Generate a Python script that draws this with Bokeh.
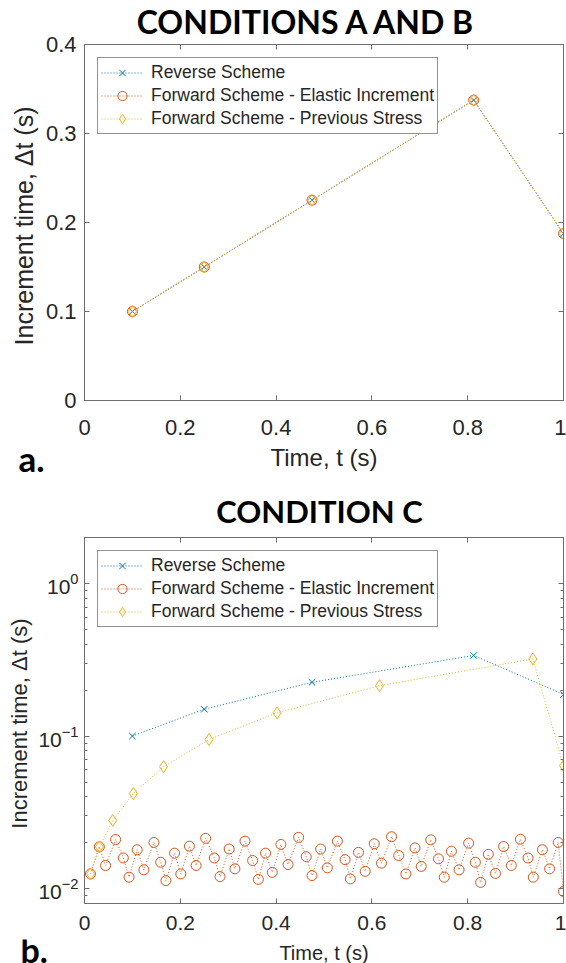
from bokeh.plotting import figure
from bokeh.models import (Range1d, FixedTicker, LinearAxis, LogAxis, Legend, LegendItem,
                          Label, CustomJSTickFormatter, LogTickFormatter)
from bokeh.layouts import column, row
from bokeh.embed import file_html
from bokeh.resources import INLINE

# ---------------- data ----------------
# Panel a: conditions A and B (all three schemes give the same steps)
a_time = [0.1, 0.25, 0.475, 0.8125, 1.0]
a_reverse_dt = [0.1, 0.15, 0.225, 0.3375, 0.1875]
a_elastic_dt = [0.1, 0.15, 0.225, 0.3375, 0.1875]
a_previous_dt = [0.1, 0.15, 0.225, 0.3375, 0.1875]

# Panel b: condition C
b_reverse_time = [0.1, 0.25, 0.475, 0.8125, 1.0]
b_reverse_dt = [0.1, 0.15, 0.225, 0.3375, 0.1875]

b_previous_time = [0.0125, 0.031, 0.059, 0.102, 0.165, 0.26, 0.402, 0.616, 0.936, 1.0]
b_previous_dt = [0.0125, 0.0188, 0.028, 0.042, 0.063, 0.095, 0.142, 0.214, 0.32, 0.064]

b_elastic_time = [0.0125, 0.031, 0.044, 0.065, 0.081, 0.093, 0.110, 0.124, 0.145, 0.159,
                  0.170, 0.188, 0.201, 0.219, 0.233, 0.253, 0.271, 0.283, 0.302, 0.314,
                  0.335, 0.351, 0.363, 0.378, 0.392, 0.410, 0.425, 0.447, 0.463, 0.475,
                  0.493, 0.507, 0.528, 0.544, 0.555, 0.572, 0.586, 0.605, 0.620, 0.641,
                  0.656, 0.671, 0.690, 0.703, 0.723, 0.739, 0.751, 0.766, 0.782, 0.802,
                  0.816, 0.827, 0.843, 0.858, 0.875, 0.891, 0.910, 0.926, 0.937, 0.956,
                  0.971, 0.989, 1.0]
b_elastic_dt = [0.0125, 0.0188, 0.0142, 0.0210, 0.0159, 0.0119, 0.0180, 0.0133, 0.0201, 0.0149,
                0.0113, 0.0171, 0.0125, 0.0190, 0.0142, 0.0214, 0.0159, 0.0120, 0.0182, 0.0135,
                0.0205, 0.0153, 0.0115, 0.0171, 0.0128, 0.0195, 0.0144, 0.0217, 0.0162, 0.0122,
                0.0182, 0.0137, 0.0205, 0.0155, 0.0116, 0.0173, 0.0130, 0.0197, 0.0147, 0.0219,
                0.0165, 0.0125, 0.0185, 0.0140, 0.0209, 0.0157, 0.0119, 0.0176, 0.0133, 0.0199,
                0.0149, 0.0110, 0.0168, 0.0126, 0.0189, 0.0142, 0.0211, 0.0159, 0.0119, 0.0180,
                0.0135, 0.0201, 0.0096]

series_labels = ["Reverse Scheme", "Forward Scheme - Elastic Increment",
                 "Forward Scheme - Previous Stress"]
x_ticks = [0, 0.2, 0.4, 0.6, 0.8, 1.0]
a_y_ticks = [0, 0.1, 0.2, 0.3, 0.4]
b_y_ticks = [0.01, 0.1, 1.0]
b_y_minor = [0.008, 0.009, 0.02, 0.03, 0.04, 0.05, 0.06, 0.07, 0.08, 0.09,
             0.2, 0.3, 0.4, 0.5, 0.6, 0.7, 0.8, 0.9, 2.0]
title_a = "CONDITIONS A AND B"
title_b = "CONDITION C"
letter_a = "a."
letter_b = "b."
x_label = "Time, t (s)"
y_label = "Increment time,  \u0394t (s)"

# ---------------- style ----------------
W = 566
LW = 84
BLUE, RED, YEL = "#0072BD", "#D95319", "#EDB120"
TXT, AXC = "#262626", "#6e6e6e"
FONT = "Liberation Sans"
DASH = "1 2"

dec_fmt = CustomJSTickFormatter(code="return String(parseFloat(tick.toFixed(3)));")
blank_fmt = CustomJSTickFormatter(code="return '';")


def style_axis(ax, ticker, fmt, size, labeled=True):
    ax.ticker = ticker
    if fmt is not None:
        ax.formatter = fmt
    ax.axis_line_color = AXC
    ax.axis_line_width = 1
    ax.major_tick_line_color = AXC
    ax.minor_tick_line_color = AXC
    ax.major_tick_in = 5
    ax.major_tick_out = 0
    ax.minor_tick_in = 3
    ax.minor_tick_out = 0
    ax.major_label_text_font = FONT
    ax.major_label_text_color = TXT
    ax.axis_label_text_font = FONT
    ax.axis_label_text_font_style = "normal"
    ax.axis_label_text_color = TXT
    ax.major_label_text_font_size = size
    if not labeled:
        ax.formatter = blank_fmt
        ax.major_label_standoff = 0


def add_series(p, xs_list, ys_list):
    specs = [("x", BLUE, 9), ("circle", RED, 10), ("diamond", YEL, 12)]
    items = []
    for (marker, col, sz), xs, ys, lab in zip(specs, xs_list, ys_list, series_labels):
        ln = p.line(xs, ys, line_color=col, line_width=1, line_dash=DASH)
        sc = p.scatter(xs, ys, marker=marker, size=sz, line_color=col, fill_color=None,
                       line_width=1)
        items.append(LegendItem(label=lab, renderers=[ln, sc]))
    leg = Legend(items=items, location="top_left", margin=13, padding=3, spacing=0,
                 glyph_width=42, glyph_height=23, label_height=23, label_standoff=8,
                 label_text_font=FONT, label_text_font_size="17.5px", label_text_color=TXT,
                 border_line_color=TXT, border_line_width=1, background_fill_color="white",
                 background_fill_alpha=1)
    p.add_layout(leg)


def plot_fig(height, ylog, yr, top, bottom):
    p = figure(width=W, height=height, x_range=Range1d(0, 1), y_range=Range1d(*yr),
               y_axis_type="log" if ylog else "linear", output_backend="svg",
               toolbar_location=None, min_border_left=84, min_border_right=3,
               min_border_top=top, min_border_bottom=bottom)
    p.grid.visible = False
    p.outline_line_color = AXC
    p.background_fill_color = "white"
    p.border_fill_color = "white"
    return p


def strip_fig(width, height):
    s = figure(width=width, height=height, x_range=Range1d(0, 1), y_range=Range1d(0, 1),
               output_backend="svg", toolbar_location=None,
               x_axis_location=None, y_axis_location=None,
               min_border=0, min_border_left=0, min_border_right=0,
               min_border_top=0, min_border_bottom=0)
    s.grid.visible = False
    s.outline_line_color = None
    s.background_fill_color = "white"
    s.border_fill_color = "white"
    return s


def text_label(p, x, y, text, size, font="Lato", bold=True, align="left"):
    p.add_layout(Label(x=x, y=y, x_units="screen", y_units="screen", text=text,
                       text_font=font, text_font_size=size,
                       text_font_style="bold" if bold else "normal",
                       text_color="black" if bold else TXT,
                       text_align=align, text_baseline="alphabetic"))


# ---------------- title strip a ----------------
s1 = strip_fig(W, 36)
text_label(s1, 222, 15, title_a, "32px", align="center")

# ---------------- panel a ----------------
pa = plot_fig(410, False, (0, 0.4), 8, 46)
add_series(pa, [a_time, a_time, a_time], [a_reverse_dt, a_elastic_dt, a_previous_dt])
style_axis(pa.xaxis[0], FixedTicker(ticks=x_ticks, minor_ticks=[]), dec_fmt, "22px")
style_axis(pa.yaxis[0], FixedTicker(ticks=a_y_ticks, minor_ticks=[]), dec_fmt, "22px")
pa.xaxis[0].major_label_standoff = 19
pa.yaxis[0].axis_label = y_label
pa.yaxis[0].axis_label_text_font_size = "25px"
pa.yaxis[0].major_label_standoff = 8
pa.yaxis[0].axis_label_standoff = 5
ra = LinearAxis()
style_axis(ra, FixedTicker(ticks=a_y_ticks, minor_ticks=[]), None, "1px", labeled=False)
pa.add_layout(ra, "right")
ta = LinearAxis()
style_axis(ta, FixedTicker(ticks=x_ticks, minor_ticks=[]), None, "1px", labeled=False)
pa.add_layout(ta, "above")

# ---------------- strip between panels ----------------
l2 = strip_fig(LW, 83)
text_label(l2, 18, 72, letter_a, "35px")
s2 = strip_fig(W - LW, 83)
text_label(s2, 239.5, 72, x_label, "24px", font=FONT, bold=False, align="center")
text_label(s2, 235, 19, title_b, "31px", align="center")

# ---------------- panel b ----------------
pb = plot_fig(410, True, (0.008, 2.0), 8, 36)
add_series(pb, [b_reverse_time, b_elastic_time, b_previous_time],
           [b_reverse_dt, b_elastic_dt, b_previous_dt])
style_axis(pb.xaxis[0], FixedTicker(ticks=x_ticks, minor_ticks=[]), dec_fmt, "21px")
style_axis(pb.yaxis[0], FixedTicker(ticks=b_y_ticks, minor_ticks=b_y_minor),
           LogTickFormatter(), "21px")
pb.xaxis[0].major_label_standoff = 12
pb.yaxis[0].axis_label = y_label
pb.yaxis[0].axis_label_text_font_size = "22px"
pb.yaxis[0].major_label_standoff = 6
pb.yaxis[0].axis_label_standoff = 3
rb = LogAxis()
style_axis(rb, FixedTicker(ticks=b_y_ticks, minor_ticks=b_y_minor), None, "1px", labeled=False)
pb.add_layout(rb, "right")
tb = LinearAxis()
style_axis(tb, FixedTicker(ticks=x_ticks, minor_ticks=[]), None, "1px", labeled=False)
pb.add_layout(tb, "above")

# ---------------- bottom strip ----------------
l3 = strip_fig(LW, 24)
text_label(l3, 20, 14, letter_b, "34px")
s3 = strip_fig(W - LW, 24)
text_label(s3, 239.5, 10.5, x_label, "20px", font=FONT, bold=False, align="center")

layout = column(s1, pa, row(l2, s2, spacing=0), pb, row(l3, s3, spacing=0), spacing=0)
open("out.html", "w").write(file_html(layout, INLINE))
